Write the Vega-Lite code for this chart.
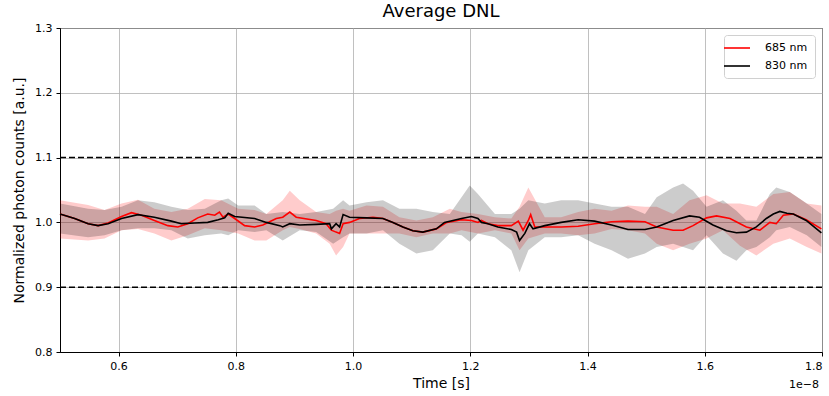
{
  "$schema": "https://vega.github.io/schema/vega-lite/v6.json",
  "width": 762,
  "height": 324,
  "autosize": {"type": "none"},
  "padding": {"left": 60, "top": 28, "right": 7, "bottom": 44},
  "title": {"text": "Average DNL", "fontSize": 18, "font": "DejaVu Sans", "fontWeight": "normal", "color": "black", "offset": 1},
  "config": {
    "font": "DejaVu Sans",
    "view": {"stroke": "black", "strokeWidth": 1},
    "axis": {
      "labelFont": "DejaVu Sans", "labelFontSize": 11, "labelColor": "black",
      "titleFont": "DejaVu Sans", "titleFontSize": 14, "titleFontWeight": "normal", "titleColor": "black",
      "tickColor": "black", "domainColor": "black", "gridColor": "#b0b0b0", "gridWidth": 0.8,
      "tickSize": 4, "labelPadding": 4
    },
    "axisX": {"titlePadding": 5},
    "axisY": {"titlePadding": 8},
    "legend": {"labelFont": "DejaVu Sans", "labelFontSize": 11, "labelColor": "black"}
  },
  "datasets": {
    "lines": [
      {"t":0.500,"s":"685 nm","v":1.013},{"t":0.525,"s":"685 nm","v":1.006},{"t":0.548,"s":"685 nm","v":0.998},{"t":0.565,"s":"685 nm","v":0.995},{"t":0.582,"s":"685 nm","v":0.999},{"t":0.605,"s":"685 nm","v":1.009},{"t":0.622,"s":"685 nm","v":1.015},{"t":0.639,"s":"685 nm","v":1.011},{"t":0.661,"s":"685 nm","v":1.003},{"t":0.684,"s":"685 nm","v":0.995},{"t":0.701,"s":"685 nm","v":0.993},{"t":0.718,"s":"685 nm","v":0.998},{"t":0.735,"s":"685 nm","v":1.007},{"t":0.752,"s":"685 nm","v":1.013},{"t":0.764,"s":"685 nm","v":1.011},{"t":0.772,"s":"685 nm","v":1.016},{"t":0.778,"s":"685 nm","v":1.008},{"t":0.787,"s":"685 nm","v":1.013},{"t":0.798,"s":"685 nm","v":1.006},{"t":0.815,"s":"685 nm","v":0.995},{"t":0.832,"s":"685 nm","v":0.993},{"t":0.846,"s":"685 nm","v":0.996},{"t":0.869,"s":"685 nm","v":1.006},{"t":0.880,"s":"685 nm","v":1.008},{"t":0.892,"s":"685 nm","v":1.016},{"t":0.903,"s":"685 nm","v":1.008},{"t":0.937,"s":"685 nm","v":1.003},{"t":0.954,"s":"685 nm","v":0.998},{"t":0.963,"s":"685 nm","v":0.988},{"t":0.971,"s":"685 nm","v":0.985},{"t":0.977,"s":"685 nm","v":0.983},{"t":0.983,"s":"685 nm","v":0.998},{"t":0.994,"s":"685 nm","v":1.000},{"t":1.011,"s":"685 nm","v":1.006},{"t":1.034,"s":"685 nm","v":1.008},{"t":1.051,"s":"685 nm","v":1.006},{"t":1.068,"s":"685 nm","v":1.000},{"t":1.085,"s":"685 nm","v":0.993},{"t":1.102,"s":"685 nm","v":0.987},{"t":1.119,"s":"685 nm","v":0.985},{"t":1.142,"s":"685 nm","v":0.990},{"t":1.160,"s":"685 nm","v":1.000},{"t":1.185,"s":"685 nm","v":1.004},{"t":1.202,"s":"685 nm","v":1.003},{"t":1.213,"s":"685 nm","v":1.000},{"t":1.219,"s":"685 nm","v":1.003},{"t":1.230,"s":"685 nm","v":0.998},{"t":1.247,"s":"685 nm","v":0.995},{"t":1.270,"s":"685 nm","v":0.995},{"t":1.282,"s":"685 nm","v":1.002},{"t":1.290,"s":"685 nm","v":0.988},{"t":1.299,"s":"685 nm","v":1.003},{"t":1.303,"s":"685 nm","v":1.012},{"t":1.310,"s":"685 nm","v":0.993},{"t":1.327,"s":"685 nm","v":0.993},{"t":1.355,"s":"685 nm","v":0.993},{"t":1.384,"s":"685 nm","v":0.994},{"t":1.412,"s":"685 nm","v":0.998},{"t":1.441,"s":"685 nm","v":1.001},{"t":1.469,"s":"685 nm","v":1.002},{"t":1.498,"s":"685 nm","v":1.001},{"t":1.518,"s":"685 nm","v":0.993},{"t":1.546,"s":"685 nm","v":0.988},{"t":1.563,"s":"685 nm","v":0.988},{"t":1.580,"s":"685 nm","v":0.995},{"t":1.603,"s":"685 nm","v":1.007},{"t":1.620,"s":"685 nm","v":1.010},{"t":1.643,"s":"685 nm","v":1.006},{"t":1.671,"s":"685 nm","v":0.993},{"t":1.694,"s":"685 nm","v":0.988},{"t":1.711,"s":"685 nm","v":1.000},{"t":1.722,"s":"685 nm","v":0.998},{"t":1.734,"s":"685 nm","v":1.011},{"t":1.751,"s":"685 nm","v":1.013},{"t":1.773,"s":"685 nm","v":1.004},{"t":1.799,"s":"685 nm","v":0.990},
      {"t":0.500,"s":"830 nm","v":1.013},{"t":0.525,"s":"830 nm","v":1.006},{"t":0.548,"s":"830 nm","v":0.998},{"t":0.565,"s":"830 nm","v":0.995},{"t":0.582,"s":"830 nm","v":0.998},{"t":0.605,"s":"830 nm","v":1.006},{"t":0.633,"s":"830 nm","v":1.012},{"t":0.661,"s":"830 nm","v":1.008},{"t":0.690,"s":"830 nm","v":1.002},{"t":0.707,"s":"830 nm","v":0.998},{"t":0.730,"s":"830 nm","v":0.999},{"t":0.752,"s":"830 nm","v":1.000},{"t":0.770,"s":"830 nm","v":1.004},{"t":0.781,"s":"830 nm","v":1.007},{"t":0.787,"s":"830 nm","v":1.014},{"t":0.798,"s":"830 nm","v":1.009},{"t":0.832,"s":"830 nm","v":1.006},{"t":0.852,"s":"830 nm","v":1.000},{"t":0.875,"s":"830 nm","v":0.995},{"t":0.880,"s":"830 nm","v":0.993},{"t":0.892,"s":"830 nm","v":0.998},{"t":0.909,"s":"830 nm","v":0.996},{"t":0.937,"s":"830 nm","v":0.997},{"t":0.960,"s":"830 nm","v":0.998},{"t":0.963,"s":"830 nm","v":0.990},{"t":0.971,"s":"830 nm","v":0.998},{"t":0.977,"s":"830 nm","v":0.993},{"t":0.983,"s":"830 nm","v":1.012},{"t":0.994,"s":"830 nm","v":1.008},{"t":1.023,"s":"830 nm","v":1.007},{"t":1.051,"s":"830 nm","v":1.006},{"t":1.068,"s":"830 nm","v":1.000},{"t":1.085,"s":"830 nm","v":0.993},{"t":1.102,"s":"830 nm","v":0.987},{"t":1.119,"s":"830 nm","v":0.985},{"t":1.142,"s":"830 nm","v":0.990},{"t":1.156,"s":"830 nm","v":1.000},{"t":1.185,"s":"830 nm","v":1.006},{"t":1.202,"s":"830 nm","v":1.009},{"t":1.213,"s":"830 nm","v":1.006},{"t":1.219,"s":"830 nm","v":1.000},{"t":1.230,"s":"830 nm","v":0.998},{"t":1.247,"s":"830 nm","v":0.993},{"t":1.270,"s":"830 nm","v":0.989},{"t":1.279,"s":"830 nm","v":0.985},{"t":1.284,"s":"830 nm","v":0.972},{"t":1.293,"s":"830 nm","v":0.983},{"t":1.301,"s":"830 nm","v":0.998},{"t":1.307,"s":"830 nm","v":0.990},{"t":1.327,"s":"830 nm","v":0.995},{"t":1.355,"s":"830 nm","v":1.000},{"t":1.384,"s":"830 nm","v":1.004},{"t":1.412,"s":"830 nm","v":1.002},{"t":1.441,"s":"830 nm","v":0.996},{"t":1.469,"s":"830 nm","v":0.989},{"t":1.498,"s":"830 nm","v":0.989},{"t":1.518,"s":"830 nm","v":0.993},{"t":1.546,"s":"830 nm","v":1.003},{"t":1.574,"s":"830 nm","v":1.010},{"t":1.591,"s":"830 nm","v":1.008},{"t":1.614,"s":"830 nm","v":0.996},{"t":1.637,"s":"830 nm","v":0.987},{"t":1.654,"s":"830 nm","v":0.984},{"t":1.671,"s":"830 nm","v":0.985},{"t":1.688,"s":"830 nm","v":0.993},{"t":1.705,"s":"830 nm","v":1.006},{"t":1.717,"s":"830 nm","v":1.013},{"t":1.728,"s":"830 nm","v":1.017},{"t":1.740,"s":"830 nm","v":1.014},{"t":1.751,"s":"830 nm","v":1.013},{"t":1.773,"s":"830 nm","v":1.003},{"t":1.799,"s":"830 nm","v":0.984}
    ],
    "bands": [
      {"t":0.500,"s":"685 nm","lo":0.975,"hi":1.034},{"t":0.548,"s":"685 nm","lo":0.972,"hi":1.027},{"t":0.576,"s":"685 nm","lo":0.975,"hi":1.019},{"t":0.605,"s":"685 nm","lo":0.988,"hi":1.029},{"t":0.633,"s":"685 nm","lo":0.990,"hi":1.035},{"t":0.661,"s":"685 nm","lo":0.983,"hi":1.021},{"t":0.690,"s":"685 nm","lo":0.972,"hi":1.016},{"t":0.718,"s":"685 nm","lo":0.980,"hi":1.021},{"t":0.747,"s":"685 nm","lo":0.991,"hi":1.036},{"t":0.775,"s":"685 nm","lo":0.988,"hi":1.034},{"t":0.804,"s":"685 nm","lo":0.983,"hi":1.021},{"t":0.832,"s":"685 nm","lo":0.972,"hi":1.019},{"t":0.852,"s":"685 nm","lo":0.972,"hi":1.013},{"t":0.880,"s":"685 nm","lo":0.988,"hi":1.034},{"t":0.892,"s":"685 nm","lo":0.993,"hi":1.049},{"t":0.909,"s":"685 nm","lo":0.990,"hi":1.034},{"t":0.937,"s":"685 nm","lo":0.983,"hi":1.016},{"t":0.960,"s":"685 nm","lo":0.967,"hi":1.013},{"t":0.971,"s":"685 nm","lo":0.949,"hi":1.018},{"t":0.983,"s":"685 nm","lo":0.962,"hi":1.021},{"t":0.994,"s":"685 nm","lo":0.983,"hi":1.018},{"t":1.023,"s":"685 nm","lo":0.983,"hi":1.026},{"t":1.051,"s":"685 nm","lo":0.983,"hi":1.024},{"t":1.079,"s":"685 nm","lo":0.983,"hi":1.008},{"t":1.108,"s":"685 nm","lo":0.977,"hi":1.003},{"t":1.136,"s":"685 nm","lo":0.983,"hi":1.008},{"t":1.165,"s":"685 nm","lo":0.983,"hi":1.021},{"t":1.185,"s":"685 nm","lo":0.988,"hi":1.016},{"t":1.213,"s":"685 nm","lo":0.983,"hi":1.013},{"t":1.242,"s":"685 nm","lo":0.988,"hi":1.008},{"t":1.270,"s":"685 nm","lo":0.983,"hi":1.006},{"t":1.284,"s":"685 nm","lo":0.957,"hi":1.024},{"t":1.299,"s":"685 nm","lo":0.975,"hi":1.054},{"t":1.327,"s":"685 nm","lo":0.983,"hi":1.008},{"t":1.355,"s":"685 nm","lo":0.983,"hi":1.008},{"t":1.384,"s":"685 nm","lo":0.980,"hi":1.016},{"t":1.412,"s":"685 nm","lo":0.983,"hi":1.021},{"t":1.441,"s":"685 nm","lo":0.990,"hi":1.018},{"t":1.469,"s":"685 nm","lo":0.988,"hi":1.026},{"t":1.498,"s":"685 nm","lo":0.983,"hi":1.024},{"t":1.518,"s":"685 nm","lo":0.967,"hi":1.024},{"t":1.546,"s":"685 nm","lo":0.957,"hi":1.013},{"t":1.574,"s":"685 nm","lo":0.967,"hi":1.034},{"t":1.603,"s":"685 nm","lo":0.975,"hi":1.042},{"t":1.631,"s":"685 nm","lo":0.988,"hi":1.029},{"t":1.660,"s":"685 nm","lo":0.964,"hi":1.029},{"t":1.688,"s":"685 nm","lo":0.949,"hi":1.024},{"t":1.717,"s":"685 nm","lo":0.967,"hi":1.044},{"t":1.745,"s":"685 nm","lo":0.975,"hi":1.047},{"t":1.774,"s":"685 nm","lo":0.962,"hi":1.029},{"t":1.799,"s":"685 nm","lo":0.952,"hi":1.026},
      {"t":0.500,"s":"830 nm","lo":0.983,"hi":1.029},{"t":0.548,"s":"830 nm","lo":0.977,"hi":1.021},{"t":0.576,"s":"830 nm","lo":0.980,"hi":1.019},{"t":0.605,"s":"830 nm","lo":0.988,"hi":1.024},{"t":0.633,"s":"830 nm","lo":0.991,"hi":1.034},{"t":0.661,"s":"830 nm","lo":0.991,"hi":1.031},{"t":0.690,"s":"830 nm","lo":0.988,"hi":1.024},{"t":0.718,"s":"830 nm","lo":0.975,"hi":1.019},{"t":0.747,"s":"830 nm","lo":0.980,"hi":1.021},{"t":0.775,"s":"830 nm","lo":0.983,"hi":1.034},{"t":0.787,"s":"830 nm","lo":0.980,"hi":1.037},{"t":0.804,"s":"830 nm","lo":0.988,"hi":1.026},{"t":0.832,"s":"830 nm","lo":0.985,"hi":1.026},{"t":0.852,"s":"830 nm","lo":0.988,"hi":1.013},{"t":0.880,"s":"830 nm","lo":0.972,"hi":1.016},{"t":0.909,"s":"830 nm","lo":0.988,"hi":1.013},{"t":0.937,"s":"830 nm","lo":0.985,"hi":1.016},{"t":0.966,"s":"830 nm","lo":0.967,"hi":1.021},{"t":0.983,"s":"830 nm","lo":0.977,"hi":1.034},{"t":0.994,"s":"830 nm","lo":0.983,"hi":1.026},{"t":1.023,"s":"830 nm","lo":0.983,"hi":1.031},{"t":1.051,"s":"830 nm","lo":0.988,"hi":1.034},{"t":1.079,"s":"830 nm","lo":0.967,"hi":1.021},{"t":1.108,"s":"830 nm","lo":0.952,"hi":1.021},{"t":1.136,"s":"830 nm","lo":0.957,"hi":1.016},{"t":1.165,"s":"830 nm","lo":0.983,"hi":1.013},{"t":1.185,"s":"830 nm","lo":0.980,"hi":1.039},{"t":1.199,"s":"830 nm","lo":0.970,"hi":1.057},{"t":1.213,"s":"830 nm","lo":0.983,"hi":1.044},{"t":1.242,"s":"830 nm","lo":0.977,"hi":1.013},{"t":1.270,"s":"830 nm","lo":0.957,"hi":1.013},{"t":1.284,"s":"830 nm","lo":0.923,"hi":1.021},{"t":1.299,"s":"830 nm","lo":0.957,"hi":1.034},{"t":1.327,"s":"830 nm","lo":0.977,"hi":1.029},{"t":1.355,"s":"830 nm","lo":0.977,"hi":1.034},{"t":1.384,"s":"830 nm","lo":0.980,"hi":1.034},{"t":1.412,"s":"830 nm","lo":0.967,"hi":1.029},{"t":1.441,"s":"830 nm","lo":0.957,"hi":1.024},{"t":1.469,"s":"830 nm","lo":0.944,"hi":1.024},{"t":1.498,"s":"830 nm","lo":0.952,"hi":1.013},{"t":1.518,"s":"830 nm","lo":0.962,"hi":1.039},{"t":1.546,"s":"830 nm","lo":0.967,"hi":1.054},{"t":1.563,"s":"830 nm","lo":0.962,"hi":1.060},{"t":1.580,"s":"830 nm","lo":0.957,"hi":1.049},{"t":1.603,"s":"830 nm","lo":0.980,"hi":1.024},{"t":1.631,"s":"830 nm","lo":0.952,"hi":1.034},{"t":1.654,"s":"830 nm","lo":0.941,"hi":1.018},{"t":1.671,"s":"830 nm","lo":0.957,"hi":1.003},{"t":1.688,"s":"830 nm","lo":0.962,"hi":1.003},{"t":1.711,"s":"830 nm","lo":0.977,"hi":1.044},{"t":1.722,"s":"830 nm","lo":0.988,"hi":1.054},{"t":1.745,"s":"830 nm","lo":0.993,"hi":1.047},{"t":1.774,"s":"830 nm","lo":0.980,"hi":1.029},{"t":1.799,"s":"830 nm","lo":0.962,"hi":1.013}
    ],
    "refs": [{"h": 1.1}, {"h": 0.9}]
  },
  "layer": [
    {
      "data": {"name": "bands"},
      "transform": [{"filter": "datum.s === '685 nm'"}],
      "mark": {"type": "area", "color": "red", "opacity": 0.2},
      "encoding": {
        "x": {"field": "t", "type": "quantitative", "scale": {"domain": [0.5, 1.8], "nice": false, "zero": false}, "axis": {"title": "Time [s]", "values": [0.6, 0.8, 1.0, 1.2, 1.4, 1.6, 1.8], "format": ".1f", "grid": true}},
        "y": {"field": "lo", "type": "quantitative", "scale": {"domain": [0.8, 1.3], "nice": false, "zero": false}, "axis": {"title": "Normalized photon counts [a.u.]", "values": [0.8, 0.9, 1.0, 1.1, 1.2, 1.3], "format": ".1f", "grid": true}},
        "y2": {"field": "hi"}
      }
    },
    {
      "data": {"name": "bands"},
      "transform": [{"filter": "datum.s === '830 nm'"}],
      "mark": {"type": "area", "color": "black", "opacity": 0.2},
      "encoding": {
        "x": {"field": "t", "type": "quantitative", "title": "Time [s]"},
        "y": {"field": "lo", "type": "quantitative", "title": "Normalized photon counts [a.u.]"},
        "y2": {"field": "hi"}
      }
    },
    {
      "data": {"name": "refs"},
      "mark": {"type": "rule", "color": "black", "strokeDash": [6, 3], "strokeWidth": 1.5},
      "encoding": {
        "y": {"field": "h", "type": "quantitative", "title": "Normalized photon counts [a.u.]"}
      }
    },
    {
      "data": {"name": "lines"},
      "mark": {"type": "line", "strokeWidth": 1.6},
      "encoding": {
        "x": {"field": "t", "type": "quantitative", "title": "Time [s]"},
        "y": {"field": "v", "type": "quantitative", "title": "Normalized photon counts [a.u.]"},
        "color": {
          "field": "s", "type": "nominal",
          "scale": {"domain": ["685 nm", "830 nm"], "range": ["red", "black"]},
          "legend": {
            "title": null, "orient": "top-right", "offset": 7,
            "symbolType": "M-2.6,0H2.6", "symbolSize": 100, "symbolStrokeWidth": 1.6,
            "fillColor": "white", "strokeColor": "#d0d0d0", "cornerRadius": 3, "padding": 7,
            "rowPadding": 7, "labelOffset": 22
          }
        }
      }
    },
    {
      "data": {"values": [{"label": "1e\u22128"}]},
      "mark": {"type": "text", "align": "right", "baseline": "top", "dx": -3, "dy": 27, "fontSize": 11, "font": "DejaVu Sans", "color": "black"},
      "encoding": {
        "x": {"datum": 1.8},
        "y": {"datum": 0.8},
        "text": {"field": "label"}
      }
    }
  ]
}
